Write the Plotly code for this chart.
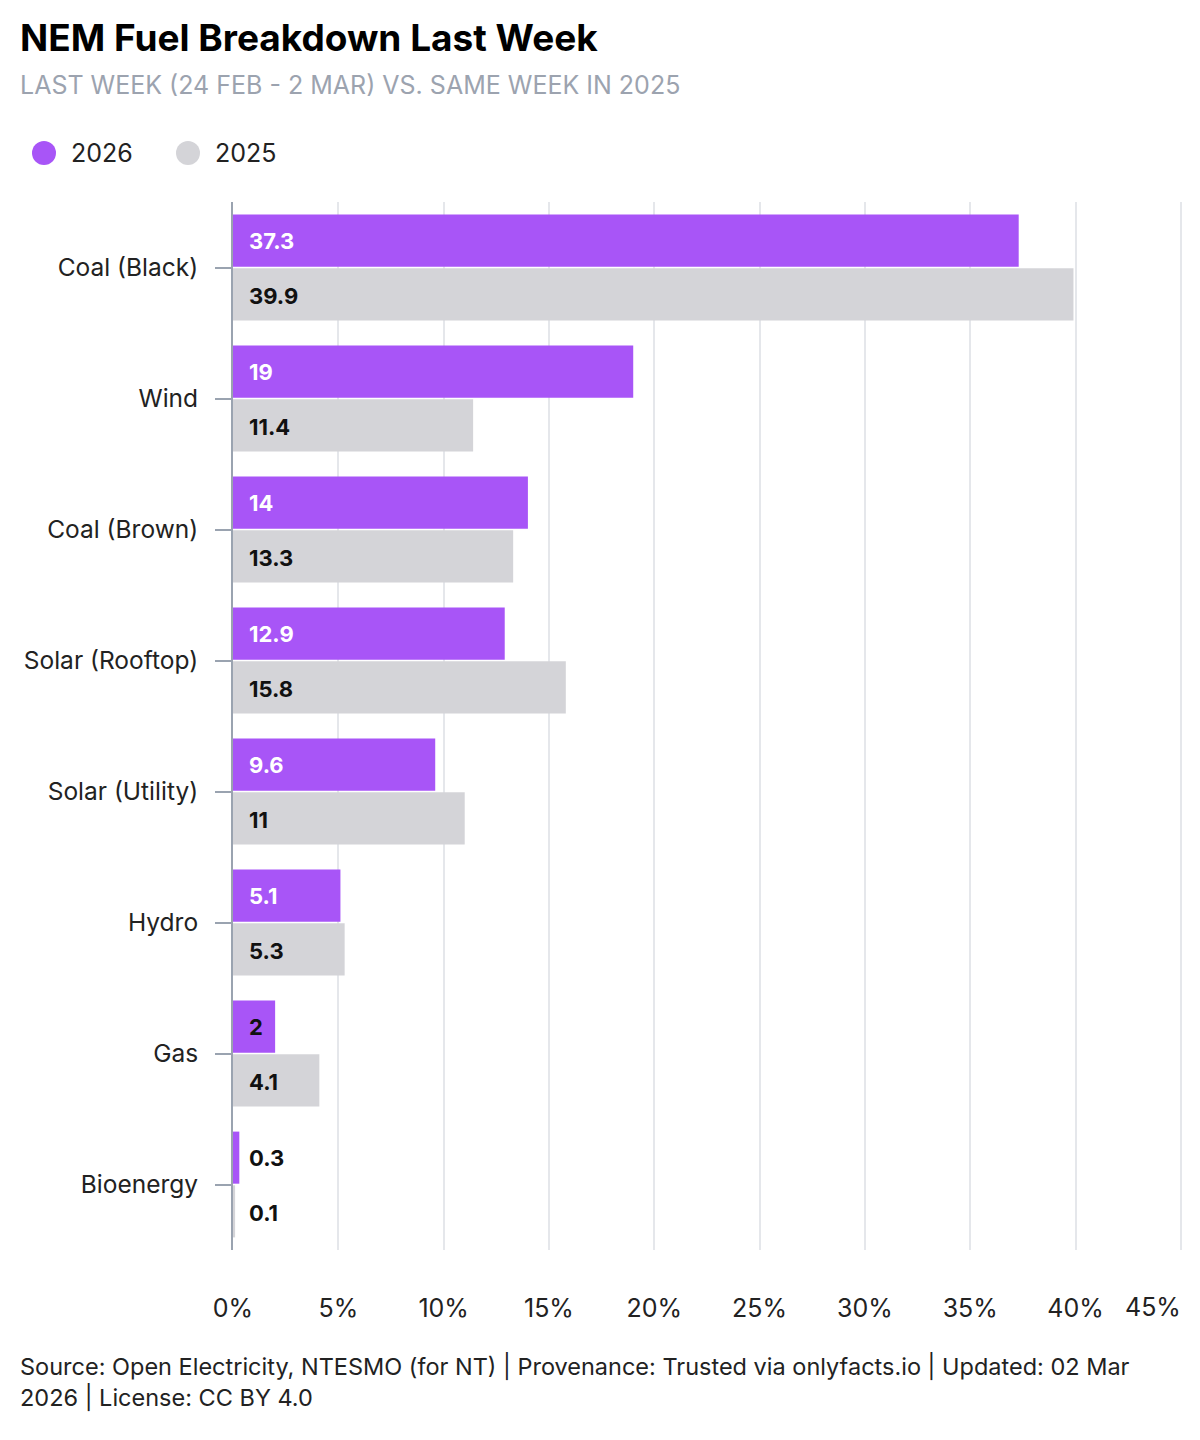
import plotly.graph_objects as go

categories = ["Coal (Black)", "Wind", "Coal (Brown)", "Solar (Rooftop)",
              "Solar (Utility)", "Hydro", "Gas", "Bioenergy"]
values_2026 = [37.3, 19, 14, 12.9, 9.6, 5.1, 2, 0.3]
values_2025 = [39.9, 11.4, 13.3, 15.8, 11, 5.3, 4.1, 0.1]
x_ticks = [0, 5, 10, 15, 20, 25, 30, 35, 40, 45]
x_tick_labels = ["0%", "5%", "10%", "15%", "20%", "25%", "30%", "35%", "40%", "45%"]
series_names = ["2026", "2025"]

PURPLE = "#a855f7"
GRAY = "#d4d4d8"
FONT = "Inter, Roboto, sans-serif"
TXT = "#222222"

fig = go.Figure()
fig.add_trace(go.Bar(y=categories, x=values_2026, orientation="h", name=series_names[0],
                     marker=dict(color=PURPLE, line=dict(width=0)), showlegend=False))
fig.add_trace(go.Bar(y=categories, x=values_2025, orientation="h", name=series_names[1],
                     marker=dict(color=GRAY, line=dict(width=0)), showlegend=False))

annotations = []
for cat, v26, v25 in zip(categories, values_2026, values_2025):
    annotations.append(dict(x=0, y=cat, xref="x", yref="y", text=f"<b>{v26:g}</b>",
                            showarrow=False, xanchor="left", xshift=14, yshift=27,
                            font=dict(family=FONT, size=22,
                                      color="#ffffff" if v26 >= 3 else "#111111")))
    annotations.append(dict(x=0, y=cat, xref="x", yref="y", text=f"<b>{v25:g}</b>",
                            showarrow=False, xanchor="left", xshift=14, yshift=-28,
                            font=dict(family=FONT, size=22, color="#111111")))

# last tick label kept inside the page
annotations.append(dict(x=x_ticks[-1], y=0, xref="x", yref="paper", yanchor="middle",
                        text=x_tick_labels[-1], showarrow=False, xanchor="right", xshift=2,
                        yshift=-57, font=dict(family=FONT, size=25, color=TXT)))

# title and subtitle
annotations.append(dict(x=0, y=1, xref="paper", yref="paper", xanchor="left", yanchor="middle",
                        xshift=-215, yshift=165, showarrow=False,
                        text="<b>NEM Fuel Breakdown Last Week</b>",
                        font=dict(family=FONT, size=37, color="#000000")))
annotations.append(dict(x=0, y=1, xref="paper", yref="paper", xanchor="left", yanchor="middle",
                        xshift=-215, yshift=117, showarrow=False,
                        text="LAST WEEK (24 FEB - 2 MAR) VS. SAME WEEK IN 2025",
                        font=dict(family=FONT, size=25, color="#9ca3af")))

# legend (drawn manually for large circle markers)
shapes = []
for name, col, cx, tx in zip(series_names, [PURPLE, GRAY], [-189, -45], [-164, -20]):
    shapes.append(dict(type="circle", xref="paper", yref="paper",
                       xsizemode="pixel", ysizemode="pixel", xanchor=0, yanchor=1,
                       x0=cx - 12, x1=cx + 12, y0=37, y1=61,
                       fillcolor=col, line=dict(width=0)))
    annotations.append(dict(x=0, y=1, xref="paper", yref="paper", xanchor="left",
                            yanchor="middle", xshift=tx, yshift=49, showarrow=False,
                            text=name, font=dict(family=FONT, size=25, color=TXT)))

annotations.append(dict(x=0, y=0, xref="paper", yref="paper", xanchor="left", yanchor="top",
                        xshift=-215, yshift=-100, align="left", showarrow=False,
                        text="Source: Open Electricity, NTESMO (for NT) | Provenance: Trusted via onlyfacts.io | Updated: 02 Mar<br>2026 | License: CC BY 4.0",
                        font=dict(family=FONT, size=23.5, color=TXT)))

fig.update_layout(
    width=1192, height=1432,
    paper_bgcolor="white", plot_bgcolor="white",
    margin=dict(l=225, r=17, t=194, b=190),
    font=dict(family=FONT, color=TXT),
    barmode="group", bargap=0.18, bargroupgap=0.03,
    annotations=annotations, shapes=shapes,
    showlegend=False,
)

fig.update_xaxes(range=[0, 45.1], tickvals=x_ticks,
                 ticktext=x_tick_labels[:-1] + [""],
                 showgrid=True, gridcolor="#e5e7eb", gridwidth=1.5,
                 zeroline=False, showline=False,
                 ticks="outside", ticklen=36, tickcolor="rgba(0,0,0,0)",
                 tickfont=dict(family=FONT, size=25, color=TXT), fixedrange=True)
fig.update_yaxes(autorange="reversed", showgrid=False, zeroline=False,
                 showline=True, linecolor="#9aa3b0", linewidth=2, layer="below traces",
                 ticks="outside", ticklen=16, tickcolor="#9aa3b0", tickwidth=2,
                 ticklabelstandoff=12,
                 tickfont=dict(family=FONT, size=24.5, color=TXT), fixedrange=True)

fig.write_html("out.html")
